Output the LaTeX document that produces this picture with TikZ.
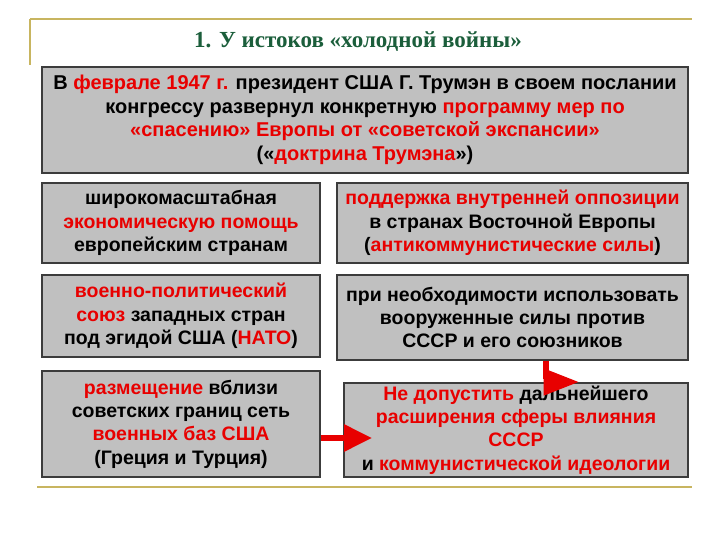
\documentclass[tikz,border=0pt]{standalone}
\usepackage{fontspec}
\setmainfont{Liberation Sans}
\newfontfamily\titlefont{Liberation Serif}
\usetikzlibrary{arrows.meta}
\definecolor{boxgray}{HTML}{C0C0C0}
\definecolor{boxline}{HTML}{3C3C3C}
\definecolor{rd}{HTML}{E80000}
\definecolor{ttl}{HTML}{1B5E3B}
\definecolor{gold}{HTML}{C8B560}
\newcommand{\R}[1]{\textcolor{rd}{#1}}
\begin{document}
\begin{tikzpicture}[x=1pt,y=-1pt,
  infobox/.style={draw=boxline,fill=boxgray,line width=1.3pt,inner sep=0pt,align=center,
    font=\fontsize{19.5}{23.3}\selectfont\bfseries},
  redarrow/.style={draw=rd,line width=6pt,-{Triangle[length=28pt,width=26pt]}}]
\useasboundingbox (0,0) rectangle (720,540);
\fill[white] (0,0) rectangle (720,540);
% decorative lines
\draw[gold,line width=1.5pt] (30,19) -- (692,19);
\draw[gold,line width=1.5pt] (30,19) -- (30,65);
\draw[gold,line width=1.5pt] (37,487) -- (692,487);
% title
\node[font=\titlefont\fontsize{23}{25}\selectfont\bfseries,text=ttl] (title) at (358,42) {1. У истоков «холодной войны»};
% boxes
\node[infobox,minimum width=646pt,minimum height=106pt,font=\fontsize{20}{23.5}\selectfont\bfseries] (top) at (365,120)
 {В \R{феврале 1947 г.} президент США Г. Трумэн в своем послании\\
  конгрессу развернул конкретную \R{программу мер по}\\
  \R{«спасению» Европы от «советской экспансии»}\\
  («\R{доктрина Трумэна}»)};
\node[infobox,minimum width=278pt,minimum height=80pt] (a1) at (181,223)
 {широкомасштабная\\ \R{экономическую помощь}\\ европейским странам};
\node[infobox,minimum width=351pt,minimum height=80pt] (b1) at (512.5,223)
 {\R{поддержка внутренней оппозиции}\\ в странах Восточной Европы\\ (\R{антикоммунистические силы})};
\node[infobox,minimum width=278pt,minimum height=82pt] (a2) at (181,316)
 {\R{военно-политический}\\ \R{союз} западных стран\\ под эгидой США (\R{НАТО})};
\node[infobox,minimum width=351pt,minimum height=85pt] (b2) at (512.5,317.5)
 {при необходимости использовать\\ вооруженные силы против\\ СССР и его союзников};
\node[infobox,minimum width=278pt,minimum height=106pt] (a3) at (181,424)
 {\R{размещение} вблизи\\ советских границ сеть\\ \R{военных баз США}\\ (Греция и Турция)};
\node[infobox,minimum width=344pt,minimum height=94pt] (b3) at (516,430)
 {\R{Не допустить} дальнейшего\\ \R{расширения сферы влияния}\\ \R{СССР}\\ и \R{коммунистической идеологии}};
% arrows
\coordinate (e1) at (372,438);
\draw[redarrow] (a3.east |- e1) -- (e1);
\coordinate (c2) at (546,382);
\coordinate (e2) at (577,382);
\draw[draw=rd,line width=6pt] (c2 |- b2.south) -- ([yshift=3pt]c2);
\draw[draw=rd,line width=1pt,fill=rd] (544,369) -- (e2) -- (544,395) -- cycle;
\end{tikzpicture}
\end{document}
